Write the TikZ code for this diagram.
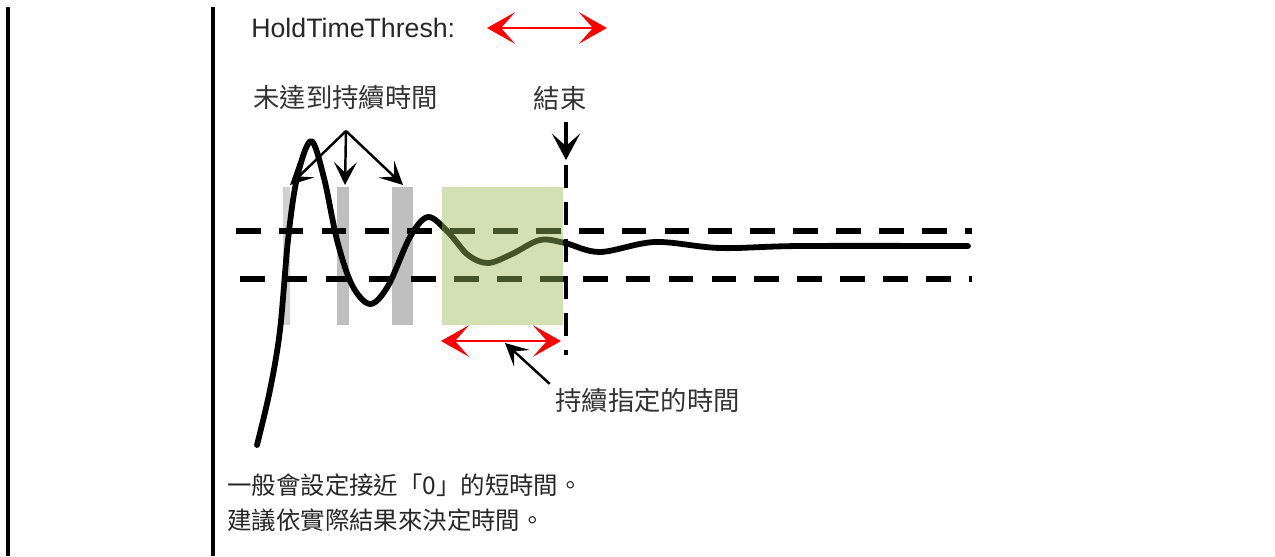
\documentclass[tikz,border=0pt]{standalone}
\usepackage{fontspec}
\setmainfont{Liberation Sans}
\newfontfamily\cjk{Noto Sans CJK TC}
\usetikzlibrary{arrows.meta,positioning}
\definecolor{holdgreen}{RGB}{155,187,89}
\definecolor{bargray}{RGB}{191,191,191}
\definecolor{barlight}{RGB}{210,210,210}
\definecolor{spanred}{RGB}{255,0,0}

\begin{document}
\begin{tikzpicture}[
  x=0.02cm, y=-0.02cm,
  label/.style={font=\cjk\fontsize{15}{18}\selectfont, text=black!80, inner sep=0pt, anchor=west},
  note/.style={font=\cjk\fontsize{13.9}{20.4}\selectfont, text=black!85, inner sep=0pt, anchor=north west, align=left},
  border/.style={line width=2pt},
  level/.style={line width=3pt, dash pattern=on 14pt off 10.4pt},
  endline/.style={line width=2.8pt, dash pattern=on 13pt off 8pt},
  signal/.style={line width=3.3pt, line join=round, line cap=round},
  window/.style={fill=holdgreen, fill opacity=0.45, draw=none},
  span/.style={{Stealth[length=16pt,width=18pt,inset=8pt]}-{Stealth[length=16pt,width=18pt,inset=8pt]}, spanred, line width=1.5pt},
  pointer/.style={-{Stealth[length=13pt,width=13pt,inset=6pt]}, line width=1.4pt},
  endpointer/.style={-{Stealth[length=15pt,width=16pt,inset=7pt]}, line width=1.8pt}
]
  \useasboundingbox (0,0) rectangle (1275,556);
  \draw[border] (8,7) -- (8,556);
  \draw[border] (213,7) -- (213,556);

  % labels
  \node[inner sep=0pt, anchor=west, text=black!85, font=\fontsize{15.2}{18}\selectfont] (hold) at (251,28) {HoldTimeThresh:};
  \node[label] (notreach) at (253,98) {未達到持續時間};
  \node[label, anchor=center] (endlabel) at (560,98) {結束};
  \node[label] (duration) at (555,400) {持續指定的時間};
  \node[note] (remark) at (227,473) {一般會設定接近「0」的短時間。\\建議依實際結果來決定時間。};

  \coordinate (holdL) at (487,28);
  \coordinate (holdR) at (607,28);
  \draw[span] (holdL) -- (holdR);

  % gray windows
  \fill[barlight] (283,187) rectangle (290,325);
  \fill[bargray] (337,187) rectangle (349,325);
  \fill[bargray] (392,187) rectangle (413,325);

  % threshold levels
  \draw[level] (236,231) -- (972,231);
  \draw[level] (240,279) -- (972,279);

  \draw[signal] plot[smooth, tension=0.55] coordinates {
    (257,445) (270,390) (280,330) (288,240) (297,178) (311,141) (324,178)
    (337,240) (352,285) (370,304) (388,286) (410,237) (428,217) (448,232)
    (468,255) (488,263) (512,254) (540,240) (565,243) (600,252) (655,242)
    (720,248) (800,246) (968,246)};

  % held window
  \fill[window] (442,187) rectangle (563,325);

  \coordinate (endtop) at (566,122);
  \coordinate (endtip) at (566,160);
  \coordinate (endbottom) at (566,355);
  \draw[endpointer] (endtop) -- (endtip);
  \draw[endline] ([yshift=-3pt]endtip) -- (endbottom);

  \coordinate (apex) at (346,131);
  \coordinate (tipA) at (290,185);
  \coordinate (tipB) at (345,185);
  \coordinate (tipC) at (403,185);
  \draw[pointer] (apex) -- (tipA);
  \draw[pointer] (apex) -- (tipB);
  \draw[pointer] (apex) -- (tipC);

  \coordinate (spanL) at (441,341);
  \coordinate (spanR) at (561,341);
  \draw[span] (spanL) -- (spanR);
  \coordinate (durtip) at (505,343);
  \draw[pointer] ([xshift=-3pt, yshift=2pt]duration.north west) -- (durtip);
\end{tikzpicture}
\end{document}
